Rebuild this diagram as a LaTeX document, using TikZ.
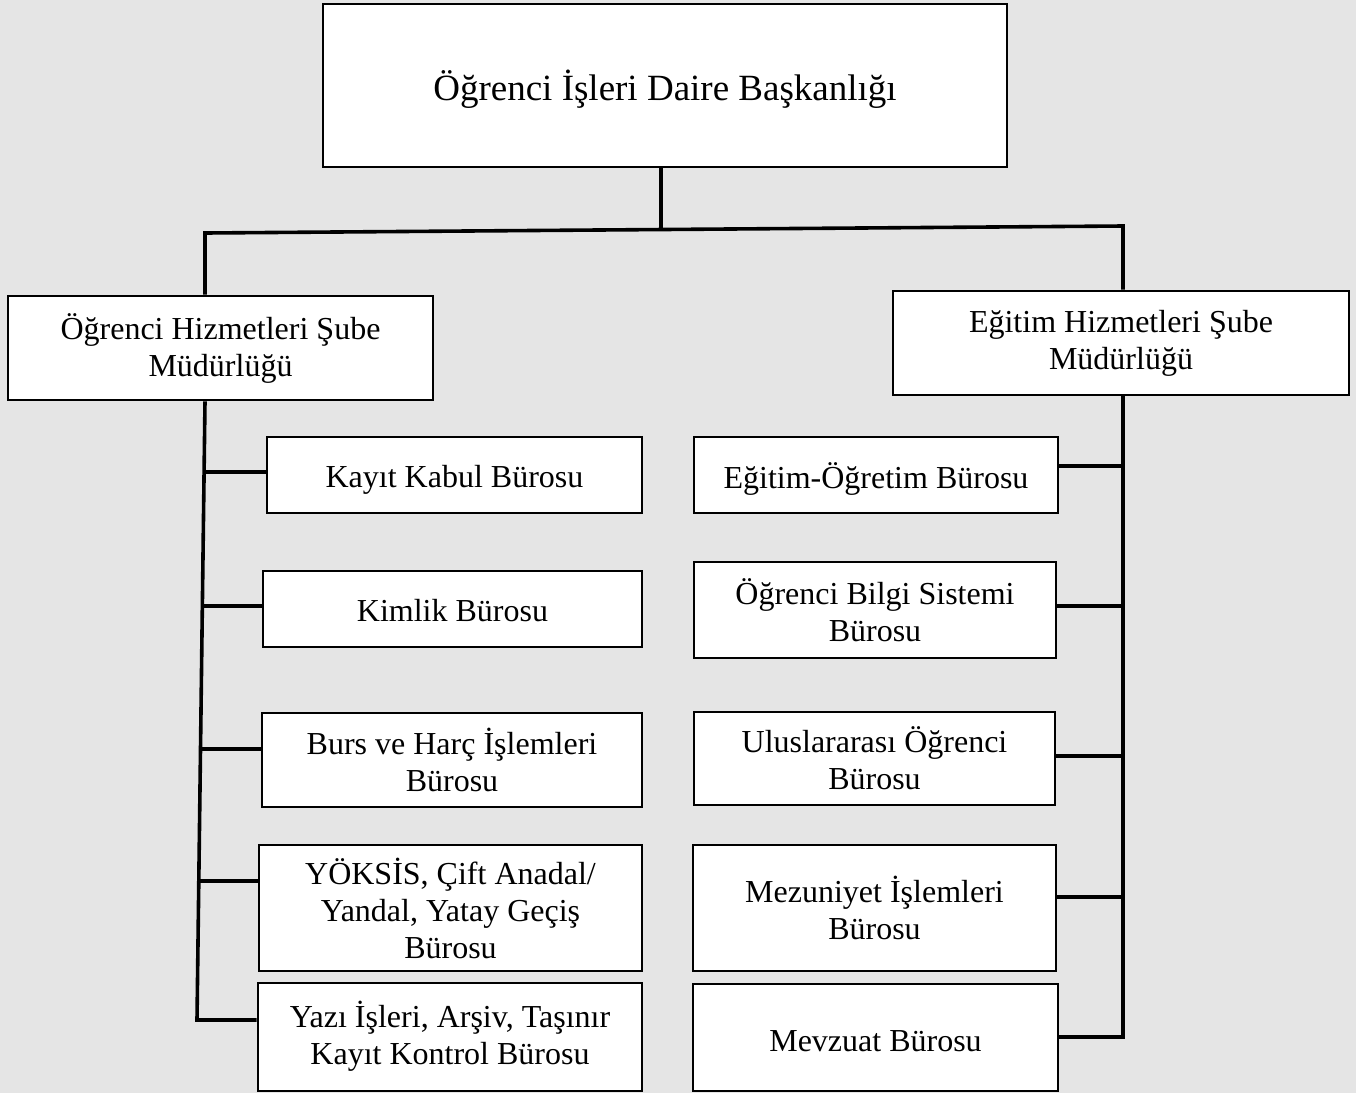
\documentclass[tikz,border=0pt]{standalone}
\usepackage{fontspec}
\setmainfont{Liberation Serif}
\usetikzlibrary{calc}
\definecolor{bgcol}{HTML}{E5E5E5}
\tikzset{
  box/.style={draw=black, line width=2.6pt, fill=white, inner sep=0pt, align=center,
    font=\fontsize{32}{37}\selectfont},
  conn/.style={draw=black, line width=3.6pt, line join=miter}
}
\begin{document}
\begin{tikzpicture}[x=1pt,y=-1pt]
\useasboundingbox (0,0) rectangle (1356,1093);
\fill[bgcol] (0,0) rectangle (1356,1093);

% junction coordinates
\coordinate (jt) at (661,230);
\coordinate (jl) at (205,233);
\coordinate (jr) at (1123,226);
\coordinate (ltop) at (205,399);
\coordinate (a1) at (206,472);
\coordinate (a2) at (204,606);
\coordinate (a3) at (202,749);
\coordinate (a4) at (200,881);
\coordinate (lbot) at (197,1020);
\coordinate (rtop) at (1123,394);
\coordinate (b1) at (1123,466);
\coordinate (b2) at (1123,606);
\coordinate (b3) at (1123,756);
\coordinate (b4) at (1123,897);
\coordinate (rbot) at (1123,1037);

% boxes
\node[box, minimum width=684pt, minimum height=163pt, font=\fontsize{37}{42}\selectfont, text height=29pt, text depth=0pt] (top) at (665,85.5) {Öğrenci İşleri Daire Başkanlığı};
\node[box, minimum width=425pt, minimum height=104pt] (ls) at (220.5,348) {Öğrenci Hizmetleri Şube\\Müdürlüğü};
\node[box, minimum width=456pt, minimum height=104pt] (rs) at (1121,343) {Eğitim Hizmetleri Şube\\Müdürlüğü};

\node[box, minimum width=375pt, minimum height=76pt, text height=24pt, text depth=0pt] (l1) at (454.5,475) {Kayıt Kabul Bürosu};
\node[box, minimum width=379pt, minimum height=76pt, text height=24pt, text depth=0pt] (l2) at (452.5,609) {Kimlik Bürosu};
\node[box, minimum width=380pt, minimum height=94pt] (l3) at (452,760) {Burs ve Harç İşlemleri\\Bürosu};
\node[box, minimum width=383pt, minimum height=126pt] (l4) at (450.5,908) {YÖKSİS, Çift Anadal/\\Yandal, Yatay Geçiş\\Bürosu};
\node[box, minimum width=384pt, minimum height=108pt, text depth=8pt] (l5) at (450,1037) {Yazı İşleri, Arşiv, Taşınır\\Kayıt Kontrol Bürosu};

\node[box, minimum width=364pt, minimum height=76pt, text height=26pt, text depth=0pt] (r1) at (876,475) {Eğitim-Öğretim Bürosu};
\node[box, minimum width=362pt, minimum height=96pt] (r2) at (875,610) {Öğrenci Bilgi Sistemi\\Bürosu};
\node[box, minimum width=361pt, minimum height=93pt] (r3) at (874.5,758.5) {Uluslararası Öğrenci\\Bürosu};
\node[box, minimum width=363pt, minimum height=126pt] (r4) at (874.5,908) {Mezuniyet İşlemleri\\Bürosu};
\node[box, minimum width=365pt, minimum height=107pt, text height=27pt, text depth=0pt] (r5) at (875.5,1037.5) {Mevzuat Bürosu};

% connectors
\draw[conn] (jt |- top.south) -- (jt);
\draw[conn] (jl |- ls.north) -- (jl) -- (jr) -- (jr |- rs.north);
\draw[conn] (ltop |- ls.south) -- (lbot) -- (lbot -| l5.west);
\draw[conn] (a1) -- (a1 -| l1.west);
\draw[conn] (a2) -- (a2 -| l2.west);
\draw[conn] (a3) -- (a3 -| l3.west);
\draw[conn] (a4) -- (a4 -| l4.west);
\draw[conn] (rtop |- rs.south) -- (rbot) -- (rbot -| r5.east);
\draw[conn] (b1) -- (b1 -| r1.east);
\draw[conn] (b2) -- (b2 -| r2.east);
\draw[conn] (b3) -- (b3 -| r3.east);
\draw[conn] (b4) -- (b4 -| r4.east);
\end{tikzpicture}
\end{document}
